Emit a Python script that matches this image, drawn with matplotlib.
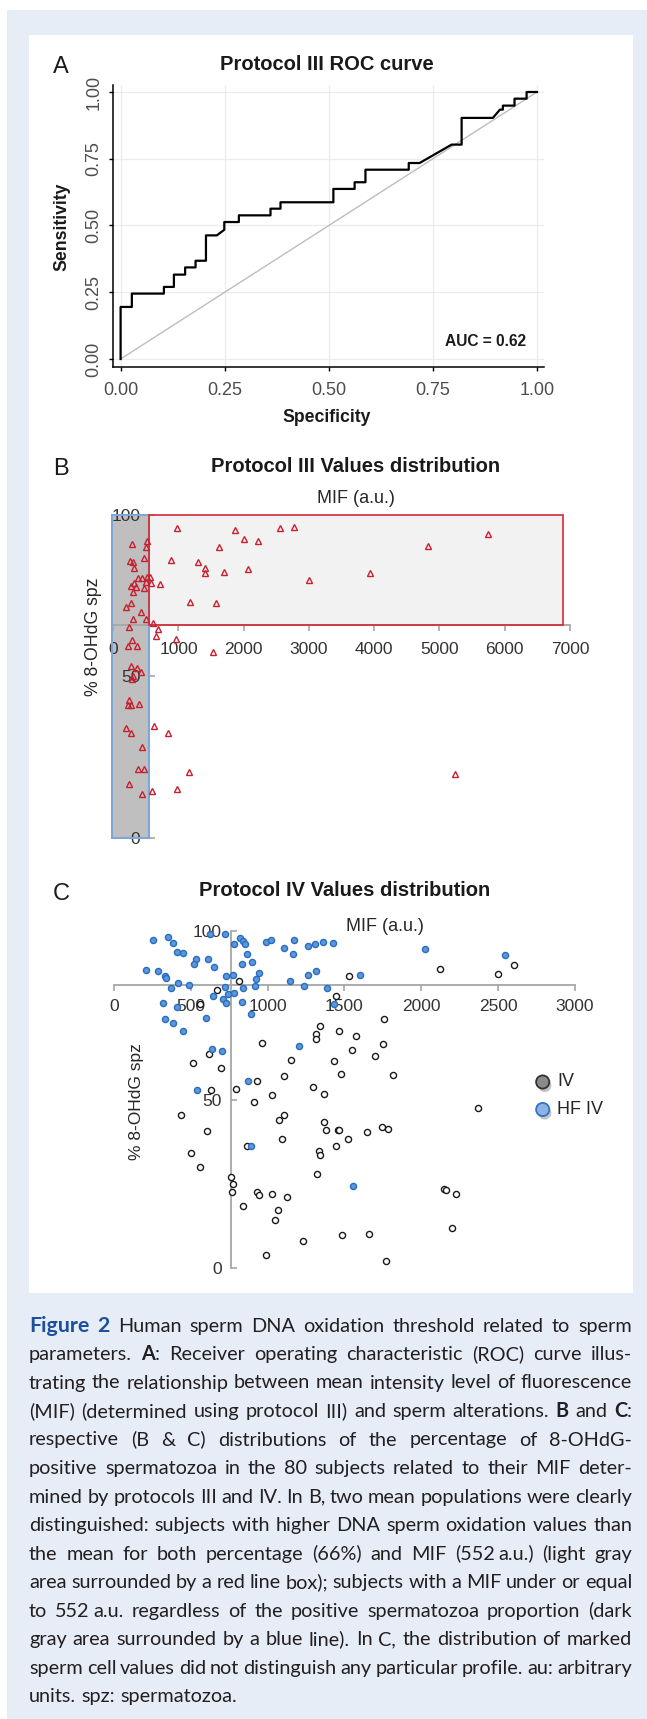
import matplotlib
matplotlib.use('Agg')
import matplotlib.pyplot as plt
from matplotlib.patches import Rectangle
from matplotlib.lines import Line2D
import matplotlib.patheffects as pe

plt.rcParams['font.family'] = ['Liberation Sans', 'DejaVu Sans']

# ---------------- data ----------------
roc_spec = [0, 0, 0.027, 0.027, 0.104, 0.104, 0.128, 0.128, 0.155, 0.155, 0.180, 0.180,
            0.205, 0.205, 0.231, 0.249, 0.249, 0.284, 0.284, 0.360, 0.360, 0.384, 0.384,
            0.511, 0.511, 0.562, 0.562, 0.588, 0.588, 0.692, 0.692, 0.718, 0.795, 0.819,
            0.819, 0.894, 0.911, 0.918, 0.918, 0.946, 0.946, 0.975, 0.975, 1.0]
roc_sens = [0, 0.195, 0.195, 0.245, 0.245, 0.270, 0.270, 0.316, 0.316, 0.343, 0.343, 0.368,
            0.368, 0.463, 0.463, 0.484, 0.513, 0.513, 0.538, 0.538, 0.563, 0.563, 0.587,
            0.587, 0.637, 0.637, 0.662, 0.662, 0.709, 0.709, 0.734, 0.734, 0.803, 0.803,
            0.903, 0.903, 0.934, 0.934, 0.949, 0.949, 0.975, 0.975, 1.0, 1.0]
auc_label = 'AUC = 0.62'
roc_ticks = [0, 0.25, 0.5, 0.75, 1.0]
roc_ticklabels = ['0.00', '0.25', '0.50', '0.75', '1.00']

b_mif = [977, 1860, 2554, 2775, 5739, 1999, 2220, 4831, 1621, 284, 504, 524, 473, 883,
         1293, 265, 303, 315, 1400, 1400, 1703, 2062, 3941, 2995, 378, 441, 524, 568, 586,
         504, 713, 271, 315, 347, 303, 473, 189, 271, 1179, 1570, 423, 303, 504,
         612, 694, 240, 650, 958, 284, 221, 359, 1526, 271, 359, 423, 296, 284, 240, 233,
         271, 397, 624, 202, 271, 839, 441, 378, 473, 1154, 5245, 240, 599, 977, 441]
b_pct = [95.9, 95.4, 95.9, 96.2, 94.0, 92.7, 91.8, 90.4, 90.0, 90.9, 90.2, 91.8, 86.6, 86.1,
         85.6, 85.8, 85.3, 83.5, 83.7, 82.0, 82.5, 83.3, 82.0, 79.9, 80.4, 80.4, 80.7, 80.9,
         78.9, 79.4, 78.6, 78.1, 79.1, 77.8, 76.3, 77.3, 71.6, 72.7, 73.1, 72.7, 70.1, 67.8,
         67.8, 66.5, 64.6, 65.2, 62.4, 61.6, 61.3, 59.3, 59.3, 57.5, 53.1, 52.6, 51.3, 50.3,
         49.3, 42.8, 41.2, 41.2, 41.4, 34.8, 34.0, 32.5, 32.5, 28.1, 21.3, 21.3, 20.4, 19.9,
         16.8, 14.6, 15.2, 13.7]
b_mean_mif = 552
b_mean_pct = 66
b_box_right = 6900
b_xticks = [0, 1000, 2000, 3000, 4000, 5000, 6000, 7000]
b_yticks = [0, 50, 100]

c_hf_mif = [255, 354, 386, 627, 721, 823, 842, 850, 783, 989, 1019, 1172, 1105, 1265, 1306,
            1359, 1426, 2021, 2547, 407, 448, 863, 1166, 534, 520, 614, 836, 901, 654, 209,
            287, 335, 340, 729, 772, 944, 922, 1260, 1314, 1601, 416, 485, 373, 724, 842,
            917, 1147, 1239, 1386, 783, 743, 643, 710, 729, 322, 413, 831, 1432, 890, 601,
            335, 386, 448, 1204, 638, 702, 874, 539, 890, 1555]
c_hf_pct = [97.4, 98.2, 96.4, 99.0, 99.0, 97.9, 96.9, 96.2, 96.0, 96.7, 97.2, 97.4, 95.1,
            95.5, 96.0, 96.6, 96.4, 94.8, 92.8, 93.8, 93.5, 93.3, 93.3, 91.8, 90.3, 91.6,
            90.3, 90.8, 89.3, 88.5, 88.2, 86.6, 86.1, 86.7, 86.9, 87.6, 85.7, 86.9, 88.1,
            86.9, 84.7, 83.9, 83.2, 83.4, 83.2, 83.7, 85.1, 83.6, 83.1, 81.7, 81.2, 80.8,
            79.7, 78.5, 78.7, 77.5, 78.8, 78.3, 75.5, 74.2, 73.8, 72.6, 70.4, 65.9, 65.0,
            64.3, 55.6, 52.9, 36.3, 24.4]
c_iv_mif = [2123, 2606, 2499, 1531, 815, 668, 558, 1442, 1756, 1340, 1314, 1314, 1466, 1576,
            962, 1751, 1549, 1700, 1153, 1429, 515, 619, 697, 1480, 1815, 1105, 928, 791,
            633, 1292, 1367, 1029, 914, 2370, 437, 1107, 1072, 1367, 1378, 1458, 1464, 1649,
            1743, 1786, 1525, 1094, 606, 866, 1442, 1335, 1340, 504, 560, 1322, 759, 775,
            767, 930, 941, 1027, 1123, 2150, 2161, 2223, 839, 1067, 1046, 2198, 1231, 1485,
            1660, 992, 1769]
c_iv_pct = [88.8, 90.0, 87.2, 86.6, 85.2, 82.4, 78.2, 80.7, 73.9, 71.9, 69.3, 68.1, 70.3,
            68.8, 66.9, 66.6, 64.6, 62.9, 61.8, 61.4, 60.8, 63.4, 59.4, 57.7, 57.3, 56.9,
            55.6, 53.1, 52.8, 53.8, 51.5, 51.4, 49.4, 47.6, 45.4, 45.4, 44.0, 43.3, 40.9,
            40.9, 40.9, 40.3, 41.8, 41.3, 38.3, 38.2, 40.6, 36.3, 36.2, 34.8, 33.4, 34.1,
            30.1, 28.0, 26.9, 24.9, 22.6, 22.6, 21.6, 21.9, 21.2, 23.5, 23.0, 22.1, 18.5,
            17.1, 14.1, 11.8, 8.1, 9.7, 10.2, 3.8, 2.0]
c_mean_mif = 761
c_mean_pct = 84
c_xticks = [0, 500, 1000, 1500, 2000, 2500, 3000]
c_yticks = [0, 50, 100]
legend_labels = ['IV', 'HF IV']

cap_lines = [
    "#Figure# #2#  Human sperm DNA oxidation threshold related to sperm",
    "parameters. *A*: Receiver operating characteristic (ROC) curve illus-",
    "trating the relationship between mean intensity level of fluorescence",
    "(MIF) (determined using protocol III) and sperm alterations. *B* and *C*:",
    "respective (B & C) distributions of the percentage of 8-OHdG-",
    "positive spermatozoa in the 80 subjects related to their MIF deter-",
    "mined by protocols III and IV. In B, two mean populations were clearly",
    "distinguished: subjects with higher DNA sperm oxidation values than",
    "the mean for both percentage (66%) and MIF (552~a.u.) (light gray",
    "area surrounded by a red line box); subjects with a MIF under or equal",
    "to 552~a.u. regardless of the positive spermatozoa proportion (dark",
    "gray area surrounded by a blue line). In C, the distribution of marked",
    "sperm cell values did not distinguish any particular profile. au: arbitrary",
    "units. spz: spermatozoa.",
]

# ---------------- figure ----------------
W, H = 647, 1719
fig = plt.figure(figsize=(W / 100, H / 100), dpi=100)
fig.patch.set_facecolor('white')


def fx(x):
    return x / W


def fy(y):
    return 1 - y / H


def ftext(x, y, s, **kw):
    return fig.text(fx(x), fy(y), s, **kw)


fig.add_artist(Rectangle((fx(7), fy(H)), fx(W) - fx(7), fy(10) - fy(H),
                         transform=fig.transFigure, facecolor='#e6edf7',
                         edgecolor='none', zorder=-10))
fig.add_artist(Rectangle((fx(29), fy(1293)), fx(633) - fx(29), fy(35) - fy(1293),
                         transform=fig.transFigure, facecolor='white',
                         edgecolor='none', zorder=-9))


def place_axes(xd, xp, yd, yp, xlim, ylim):
    sx = (xp[1] - xp[0]) / (xd[1] - xd[0])
    sy = (yp[1] - yp[0]) / (yd[1] - yd[0])
    left = xp[0] + (xlim[0] - xd[0]) * sx
    right = xp[0] + (xlim[1] - xd[0]) * sx
    top = yp[0] + (ylim[1] - yd[0]) * sy
    bottom = yp[0] + (ylim[0] - yd[0]) * sy
    ax = fig.add_axes([left / W, 1 - bottom / H, (right - left) / W, (bottom - top) / H])
    ax.set_xlim(xlim)
    ax.set_ylim(ylim)
    ax.patch.set_alpha(0)
    return ax


TXT = '#1a1a1a'

# ---------------- Panel A ----------------
axA = place_axes((0, 1), (120.6, 537), (0, 1), (359, 92), (-0.018, 1.017), (-0.03, 1.026))
axA.set_axisbelow(True)
axA.grid(True, color='#ececec', lw=0.9)
for s in ['top', 'right']:
    axA.spines[s].set_visible(False)
for s in ['left', 'bottom']:
    axA.spines[s].set_color('black')
    axA.spines[s].set_linewidth(1.1)
axA.plot([0, 1], [0, 1], color='#bdbdbd', lw=1.0)
axA.plot(roc_spec, roc_sens, color='black', lw=1.6)
axA.set_xticks(roc_ticks)
axA.set_xticklabels(roc_ticklabels)
axA.set_yticks(roc_ticks)
axA.set_yticklabels(roc_ticklabels, rotation=90, va='center')
axA.tick_params(axis='both', direction='out', length=3, width=1, color='black',
                labelsize=13, labelcolor='#4d4d4d')
axA.tick_params(axis='x', pad=8)
axA.tick_params(axis='y', pad=4.5)
axA.text(0.975, 0.064, auc_label, ha='right', va='center', fontsize=11.2,
         fontweight='bold', color=TXT)

ftext(53, 73.3, 'A', fontsize=17, ha='left', va='baseline', color=TXT)
ftext(327, 70, 'Protocol III ROC curve', fontsize=14.5, fontweight='bold',
      ha='center', va='baseline', color=TXT)
ftext(327, 417, 'Specificity', fontsize=12.7, fontweight='bold', ha='center',
      va='center', color=TXT)
ftext(62, 227, 'Sensitivity', fontsize=12.7, fontweight='bold', ha='center',
      va='center', rotation=90, color=TXT)

# ---------------- Panel B ----------------
AXC = '#a6a6a6'
axB = place_axes((0, 7000), (113.2, 570), (0, 100), (838, 515), (-40, 7050), (-2, 102))
for s in ['top', 'right']:
    axB.spines[s].set_visible(False)
axB.spines['left'].set_position(('data', b_mean_mif))
axB.spines['left'].set_bounds(0, 100)
axB.spines['bottom'].set_position(('data', b_mean_pct))
axB.spines['bottom'].set_bounds(0, 7000)
for s in ['left', 'bottom']:
    axB.spines[s].set_color(AXC)
    axB.spines[s].set_linewidth(1.3)
axB.set_xticks(b_xticks)
axB.set_yticks(b_yticks)
axB.tick_params(axis='x', direction='out', length=4, width=1.2, color=AXC,
                labelsize=12.5, labelcolor='#333333', pad=8.5)
axB.tick_params(axis='y', direction='in', length=4, width=1.2, color=AXC,
                labelsize=12.5, labelcolor='#333333', pad=6.5)
# filled areas
axB.add_patch(Rectangle((-20, 0), b_mean_mif + 20, 100, facecolor='#bfbfbf',
                        edgecolor='none', zorder=1))
axB.add_patch(Rectangle((b_mean_mif, b_mean_pct), b_box_right - b_mean_mif,
                        100 - b_mean_pct, facecolor='#f2f2f2', edgecolor='none', zorder=1))
axB.add_patch(Rectangle((-20, 0), b_mean_mif + 20, 100, fill=False,
                        edgecolor='#7ea6d6', lw=1.5, zorder=2.6))
axB.add_patch(Rectangle((b_mean_mif, b_mean_pct), b_box_right - b_mean_mif,
                        100 - b_mean_pct, fill=False, edgecolor='#d42a35', lw=1.2, zorder=2.7))
axB.plot(b_mif, b_pct, ls='none', marker='^', ms=4.6, mfc='none', mec='#c8202f',
         mew=1.0, zorder=3, clip_on=False)

ftext(53, 475, 'B', fontsize=17, ha='left', va='baseline', color=TXT)
ftext(356, 471.7, 'Protocol III Values distribution', fontsize=14.5, fontweight='bold',
      ha='center', va='baseline', color=TXT)
ftext(356, 502.7, 'MIF (a.u.)', fontsize=13, ha='center', va='baseline', color='#262626')
ftext(93, 637, '% 8-OHdG spz', fontsize=12.7, ha='center', va='center', rotation=90,
      color='#262626')

# ---------------- Panel C ----------------
axC = place_axes((0, 3000), (114, 575), (0, 100), (1268, 931), (-10, 3010), (-2, 102))
for s in ['top', 'right']:
    axC.spines[s].set_visible(False)
axC.spines['left'].set_position(('data', c_mean_mif))
axC.spines['left'].set_bounds(0, 100)
axC.spines['bottom'].set_position(('data', c_mean_pct))
axC.spines['bottom'].set_bounds(0, 3000)
for s in ['left', 'bottom']:
    axC.spines[s].set_color(AXC)
    axC.spines[s].set_linewidth(1.3)
axC.set_xticks(c_xticks)
axC.set_yticks(c_yticks)
axC.tick_params(axis='x', direction='out', length=4, width=1.2, color=AXC,
                labelsize=12.5, labelcolor='#333333', pad=5.8)
axC.tick_params(axis='y', direction='in', length=4, width=1.2, color=AXC,
                labelsize=12.5, labelcolor='#333333', pad=6.5)
axC.plot(c_iv_mif, c_iv_pct, ls='none', marker='o', ms=4.4, mfc='white', mec='#1a1a1a',
         mew=1.0, zorder=3, clip_on=False)
axC.plot(c_hf_mif, c_hf_pct, ls='none', marker='o', ms=4.4, mfc='#5a98da', mec='#2a6cc0',
         mew=1.0, zorder=3, clip_on=False)

ftext(53, 900, 'C', fontsize=17, ha='left', va='baseline', color=TXT)
ftext(345, 896, 'Protocol IV Values distribution', fontsize=14.5, fontweight='bold',
      ha='center', va='baseline', color=TXT)
ftext(385, 930.7, 'MIF (a.u.)', fontsize=13, ha='center', va='baseline', color='#262626')
ftext(137, 1102, '% 8-OHdG spz', fontsize=12.5, ha='center', va='center', rotation=90,
      color='#262626')

# legend (manual, with shadowed markers)
leg_styles = [('#8a8a8a', '#333333', 1082), ('#8db3e2', '#2f74c8', 1109.5)]
for lab, (fc, ec, yy) in zip(legend_labels, leg_styles):
    fig.add_artist(Line2D([fx(542.7)], [fy(yy)], transform=fig.transFigure, ls='none',
                          marker='o', ms=9.5, mfc=fc, mec=ec, mew=1.3,
                          path_effects=[pe.SimplePatchShadow(offset=(1.5, -2.5), alpha=0.35,
                                                             shadow_rgbFace='#555555'),
                                        pe.Normal()]))
    ftext(557, yy, lab, fontsize=13, ha='left', va='center', color='#262626')

# ---------------- caption (justified) ----------------
renderer = fig.canvas.get_renderer()
CAP_FAM = ['Lato', 'DejaVu Sans']
cap_left, cap_right = 29, 632
cap_base0, cap_step = 1331.5, 28.5
cap_body = '#231f20'
cap_blue = '#1d4f9c'


def measure(s, **kw):
    t = fig.text(0, 0, s, **kw)
    w = t.get_window_extent(renderer=renderer).width
    t.remove()
    return w


w10 = measure('units. spz: spermatozoa.', family=CAP_FAM, fontsize=10)
cap_fs = 10 * 208.0 / w10

styles = {
    'n': dict(family=CAP_FAM, fontsize=cap_fs, color=cap_body),
    'b': dict(family=CAP_FAM, fontsize=cap_fs, color=cap_body, fontweight='bold'),
    'f': dict(family=CAP_FAM, fontsize=cap_fs * 1.08, color=cap_blue, fontweight='bold'),
}
THIN = 3.5


def parse_word(word):
    runs, state, buf = [], 'n', ''
    for ch in word:
        if ch in '*#':
            if buf:
                runs.append((buf, state))
                buf = ''
            tgt = 'b' if ch == '*' else 'f'
            state = 'n' if state == tgt else tgt
        elif ch == '~':
            if buf:
                runs.append((buf, state))
                buf = ''
            runs.append(('', 'gap'))
        else:
            buf += ch
    if buf:
        runs.append((buf, state))
    return runs


space_w = measure('a a', **styles['n']) - measure('aa', **styles['n'])
for i, line in enumerate(cap_lines):
    words = [parse_word(w) for w in line.split(' ') if w]
    wws = []
    for runs in words:
        ws = []
        for txt, st in runs:
            ws.append(THIN if st == 'gap' else measure(txt, **styles[st]))
        wws.append(ws)
    total = sum(sum(ws) for ws in wws)
    last = (i == len(cap_lines) - 1)
    if last or len(words) < 2:
        gap = space_w
    else:
        gap = (cap_right - cap_left - total) / (len(words) - 1)
    base = cap_base0 + i * cap_step
    x = cap_left
    for runs, ws in zip(words, wws):
        for (txt, st), w in zip(runs, ws):
            if st != 'gap':
                ftext(x, base, txt, ha='left', va='baseline', **styles[st])
            x += w
        x += gap

fig.savefig('out.png', dpi=100, facecolor=fig.get_facecolor())
